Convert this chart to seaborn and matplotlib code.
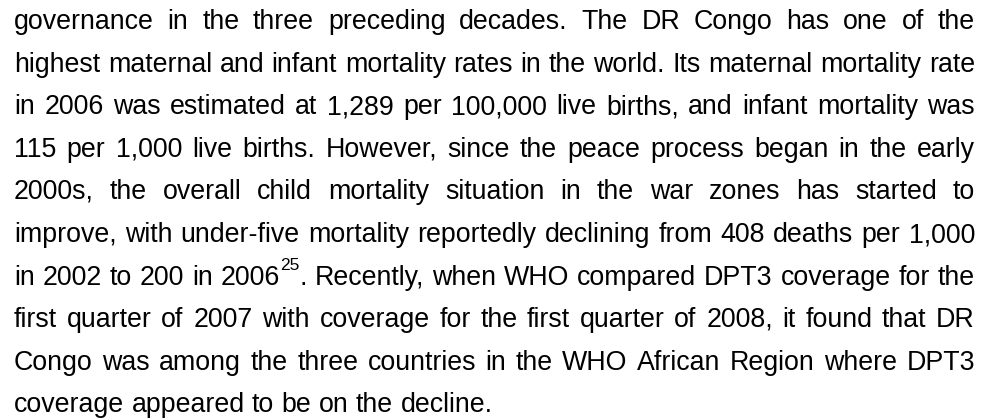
import matplotlib
matplotlib.use("Agg")
import matplotlib.pyplot as plt
import seaborn as sns

# Paragraph text, one entry per printed line (justified except the last)
lines = [
    "governance in the three preceding decades. The DR Congo has one of the",
    "highest maternal and infant mortality rates in the world. Its maternal mortality rate",
    "in 2006 was estimated at 1,289 per 100,000 live births, and infant mortality was",
    "115 per 1,000 live births. However, since the peace process began in the early",
    "2000s, the overall child mortality situation in the war zones has started to",
    "improve, with under-five mortality reportedly declining from 408 deaths per 1,000",
    "in 2002 to 200 in 2006^25. Recently, when WHO compared DPT3 coverage for the",
    "first quarter of 2007 with coverage for the first quarter of 2008, it found that DR",
    "Congo was among the three countries in the WHO African Region where DPT3",
    "coverage appeared to be on the decline.",
]

sns.set_theme(style="white")
plt.rcParams['font.family'] = ['Liberation Sans', 'DejaVu Sans']

W, H = 988, 418
fig = plt.figure(figsize=(W / 100, H / 100), dpi=100)
fig.patch.set_facecolor("white")
renderer = fig.canvas.get_renderer()

left, right = 14, 975
first_base, line_gap = 29, 42.6


def width_of(s, size):
    t = fig.text(0, 0, s, fontsize=size)
    w = t.get_window_extent(renderer).width
    t.remove()
    return w


# font size so that the second line just fills the column with normal spaces
fs = 16.0 * (right - left) / width_of(lines[1], 16.0)
sup_fs = fs * 0.65


def pieces(word):
    # split "2006^25." into normal / superscript / normal parts
    if "^" not in word:
        return [(word, False)]
    a, rest = word.split("^", 1)
    digits = "".join(c for c in rest if c.isdigit())
    tail = rest[len(digits):]
    out = [(a, False), (digits, True)]
    if tail:
        out.append((tail, False))
    return out


def word_width(word):
    return sum(width_of(p, sup_fs if sup else fs) for p, sup in pieces(word))


space = width_of("a a", fs) - 2 * width_of("a", fs)

for i, line in enumerate(lines):
    words = line.split()
    widths = [word_width(w) for w in words]
    y = round(H - (first_base + i * line_gap))
    if i < len(lines) - 1 and len(words) > 1:
        gap = (right - left - sum(widths)) / (len(words) - 1)
    else:
        gap = space
    x = left
    for w, ww in zip(words, widths):
        xx = x
        for p, sup in pieces(w):
            size = sup_fs if sup else fs
            yy = y + (round(fs * 100 / 72 * 0.55) if sup else 0)
            fig.text(xx / W, yy / H, p, fontsize=size, color="black",
                     va="baseline", ha="left")
            xx += width_of(p, size)
        x += ww + gap

fig.savefig("out.png", dpi=100, facecolor="white")
